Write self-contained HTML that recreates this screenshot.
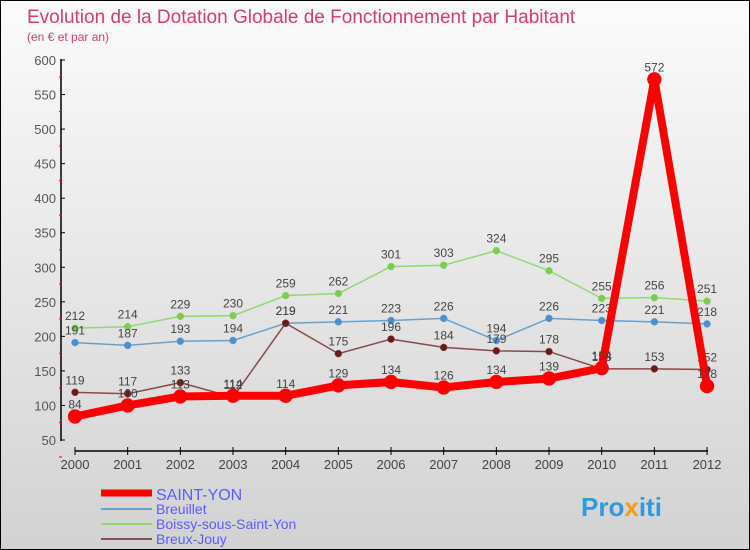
<!DOCTYPE html>
<html><head><meta charset="utf-8"><style>
body{margin:0}
#c{width:750px;height:550px;position:relative;font-family:"Liberation Sans",sans-serif;background:linear-gradient(#fbfbfb,#d2d2d2);border:1px solid #000;box-sizing:border-box;overflow:hidden}
</style></head><body>
<div id="c">
<svg id="s" width="748" height="548" xmlns="http://www.w3.org/2000/svg">
<text x="26" y="22" font-size="19" fill="#d43d6f">Evolution de la Dotation Globale de Fonctionnement par Habitant</text>
<text x="26" y="40" font-size="12" fill="#d43d6f">(en € et par an)</text>
<g id="axes"></g><g id="series"></g>
<g>
<line x1="100" y1="492" x2="151" y2="492" stroke="#f00" stroke-width="7"/>
<text x="155" y="499" font-size="16" fill="#5a5aff">SAINT-YON</text>
<line x1="100" y1="508" x2="151" y2="508" stroke="#6aa0cc" stroke-width="2"/>
<text x="155" y="513" font-size="14" fill="#5a5aff">Breuillet</text>
<line x1="100" y1="523" x2="151" y2="523" stroke="#90d870" stroke-width="2"/>
<text x="155" y="528" font-size="14" fill="#5a5aff">Boissy-sous-Saint-Yon</text>
<line x1="100" y1="538" x2="151" y2="538" stroke="#8a5050" stroke-width="2"/>
<text x="155" y="543" font-size="14" fill="#5a5aff">Breux-Jouy</text>
</g>
<text x="580" y="515" font-size="26" font-weight="bold" fill="#3399dd">Pro<tspan fill="#f39c12">x</tspan>iti</text>
</svg></div>
<script>
const years=["2000","2001","2002","2003","2004","2005","2006","2007","2008","2009","2010","2011","2012"];
const yTicks=[50,100,150,200,250,300,350,400,450,500,550,600];
const saintYon=[84,100,113,114,114,129,134,126,134,139,154,572,128];
const breuillet=[191,187,193,194,219,221,223,226,194,226,223,221,218];
const boissy=[212,214,229,230,259,262,301,303,324,295,255,256,251];
const breuxJouy=[119,117,133,112,219,175,196,184,179,178,153,153,152];
const NS="http://www.w3.org/2000/svg";
const xS=i=>74+i*52.67, yS=v=>439-(v-50)*380/550;
function mk(t,a,p){const e=document.createElementNS(NS,t);for(const k in a)e.setAttribute(k,a[k]);p.appendChild(e);return e;}
const ax=document.getElementById('axes'),sr=document.getElementById('series');
const ya=mk('line',{x1:60,y1:58,x2:60,y2:440,stroke:'#000','stroke-width':1.5},ax);

yTicks.forEach(v=>{const y=yS(v);mk('line',{x1:60,y1:y,x2:64,y2:y,stroke:'#000'},ax);
mk('line',{x1:58,y1:y+17,x2:61,y2:y+17,stroke:'#f00'},ax);
const t=mk('text',{x:55,y:y+5,'font-size':13,fill:'#555','text-anchor':'end'},ax);t.textContent=v;
});
const xa=mk('line',{x1:74,y1:450,x2:707,y2:450,stroke:'#000','stroke-width':1.5},ax);

years.forEach((yr,i)=>{const x=xS(i);mk('line',{x1:x,y1:446,x2:x,y2:454,stroke:'#000'},ax);
const t=mk('text',{x:x,y:468,'font-size':13,fill:'#444','text-anchor':'middle'},ax);t.textContent=yr;
});
function draw(vals,color,w,r,name,dot){
const g=mk('g',{},sr);
const pl=mk('polyline',{points:vals.map((v,i)=>xS(i)+','+yS(v)).join(' '),fill:'none',stroke:color,'stroke-width':w,'stroke-linejoin':'round'},g);

vals.forEach((v,i)=>{const c=mk('circle',{cx:xS(i),cy:yS(v),r:r,fill:dot,stroke:color,'stroke-width':0.5},g);

const t=mk('text',{x:xS(i),y:yS(v)-8,'font-size':12,fill:'#444','text-anchor':'middle'},g);t.textContent=v;
});}
draw(boissy,'#90d870',1.5,3.5,'boissy','#7ccc50');
draw(breuillet,'#6aa0cc',1.5,3.5,'breuillet','#4a90d0');
draw(breuxJouy,'#8a4848',1.5,3.5,'breux-jouy','#6a1a1a');
draw(saintYon,'#f00',8,7,'saint-yon','#f00');
</script>
</body></html>
